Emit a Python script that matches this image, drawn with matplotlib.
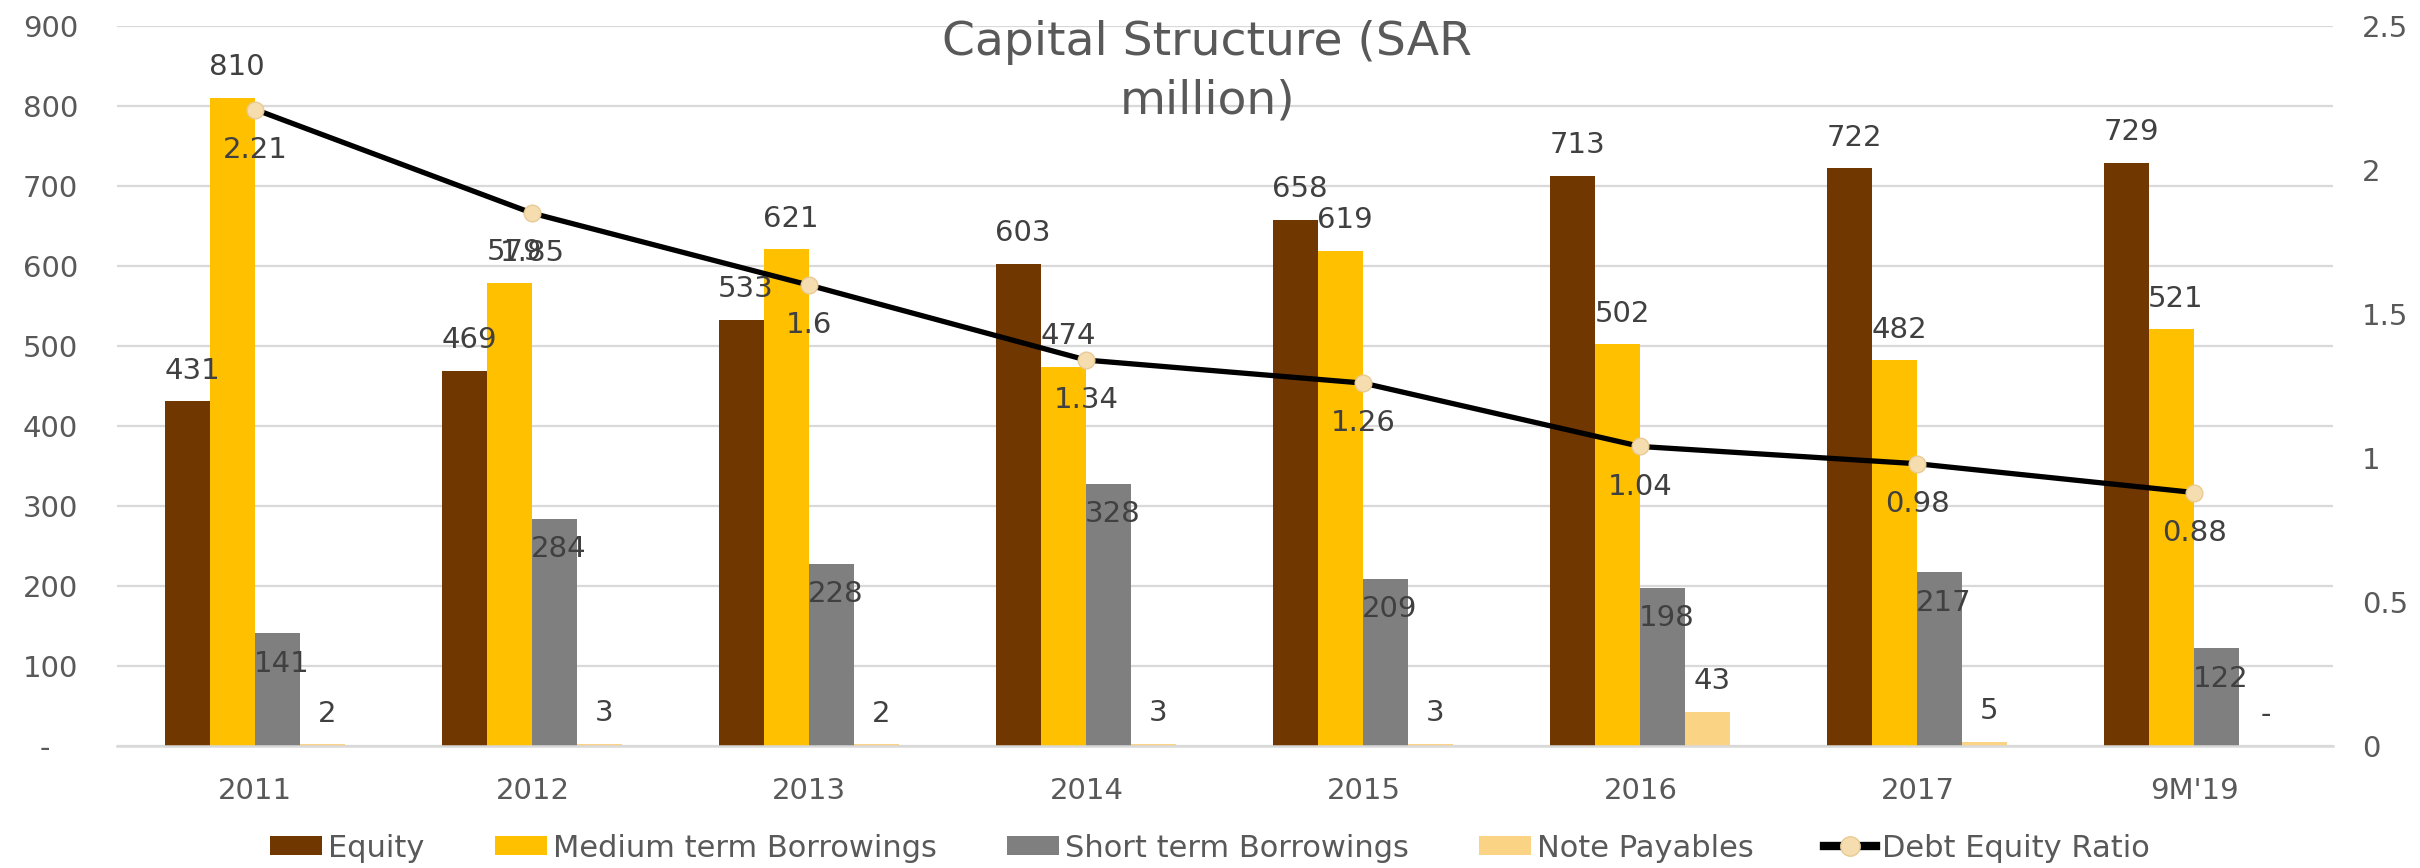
import numpy as np
import matplotlib
matplotlib.use("Agg")
import matplotlib.pyplot as plt
from matplotlib.lines import Line2D
from matplotlib.patches import Patch

plt.rcParams['font.family'] = ['DejaVu Sans']

years = ["2011", "2012", "2013", "2014", "2015", "2016", "2017", "9M'19"]
equity = [431, 469, 533, 603, 658, 713, 722, 729]
medium_term = [810, 579, 621, 474, 619, 502, 482, 521]
short_term = [141, 284, 228, 328, 209, 198, 217, 122]
note_payables = [2, 3, 2, 3, 3, 43, 5, 0]
debt_equity = [2.21, 1.85, 1.6, 1.34, 1.26, 1.04, 0.98, 0.88]

series = [
    ("Equity", equity, "#713700"),
    ("Medium term Borrowings", medium_term, "#FFC000"),
    ("Short term Borrowings", short_term, "#7F7F7F"),
    ("Note Payables", note_payables, "#FBD385"),
]

label_col = "#404040"
tick_col = "#595959"
grid_col = "#D9D9D9"

fig = plt.figure(figsize=(24.2, 8.68), dpi=100)
ax = fig.add_axes([0.0483, 0.1406, 0.9157, 0.8294])
ax2 = ax.twinx()

x = np.arange(len(years))
w = 0.1625
offsets = (np.arange(4) - 1.5) * w

for (name, vals, col), off in zip(series, offsets):
    ax.bar(x + off, vals, w, color=col, zorder=2)
    for xi, v in zip(x, vals):
        txt = "-" if v == 0 else str(v)
        # short term labels sit just inside the bar top, the rest above
        dy = -22 if name == "Short term Borrowings" else 22
        ax.annotate(txt, (xi + off, v), xytext=(3, dy), textcoords="offset points",
                    ha="center", va="center", fontsize=21, color=label_col, zorder=5)

ax2.plot(x, debt_equity, color="black", lw=3.8, marker="o", markersize=12,
         markerfacecolor="#F5DDB0", markeredgecolor="#E8CB95", markeredgewidth=1,
         zorder=3)
for xi, v in zip(x, debt_equity):
    ax2.annotate(f"{v:g}", (xi, v), xytext=(0, -29), textcoords="offset points",
                 ha="center", va="center", fontsize=21, color=label_col)

ax.set_xlim(-0.5, len(years) - 0.5)
ax.set_ylim(0, 900)
ax2.set_ylim(0, 2.5)
ax.set_yticks(np.arange(0, 901, 100))
ax.set_yticklabels(["-   "] + [str(v) for v in range(100, 901, 100)])
ax2.set_yticks(np.arange(0, 2.51, 0.5))
ax2.set_yticklabels(["0", "0.5", "1", "1.5", "2", "2.5"])
ax.set_xticks(x)
ax.set_xticklabels(years)

ax.grid(axis="y", color=grid_col, lw=1.6, zorder=0)
ax.set_axisbelow(True)
for a in (ax, ax2):
    for s in a.spines.values():
        s.set_visible(False)
ax.spines["bottom"].set_visible(True)
ax.spines["bottom"].set_color(grid_col)
ax.spines["bottom"].set_linewidth(1.8)

ax.tick_params(axis="y", length=0, pad=28, labelsize=21, labelcolor=tick_col)
ax.tick_params(axis="x", length=0, pad=22, labelsize=21, labelcolor=tick_col)
ax2.tick_params(axis="y", length=0, pad=21, labelsize=21, labelcolor=tick_col)

# title in two lines, placed by baseline
fig.text(0.4988, 1 - 55 / 868, "Capital Structure (SAR", ha="center", va="baseline",
         fontsize=34, color=tick_col)
fig.text(0.4988, 1 - 113 / 868, "million)", ha="center", va="baseline",
         fontsize=34, color=tick_col)

handles = [Patch(facecolor=c, label=n) for n, _, c in series]
handles.append(Line2D([], [], color="black", lw=6, marker="o", markersize=14,
                      markerfacecolor="#F5DDB0", markeredgecolor="#E8CB95",
                      label="Debt Equity Ratio"))
fig.legend(handles=handles, loc="center", bbox_to_anchor=(0.5, 0.023), ncol=5,
           frameon=False, fontsize=22, handlelength=1.7, handleheight=0.6,
           handletextpad=0.2, columnspacing=2.3, labelcolor=tick_col)

fig.savefig("out.png", dpi=100)
